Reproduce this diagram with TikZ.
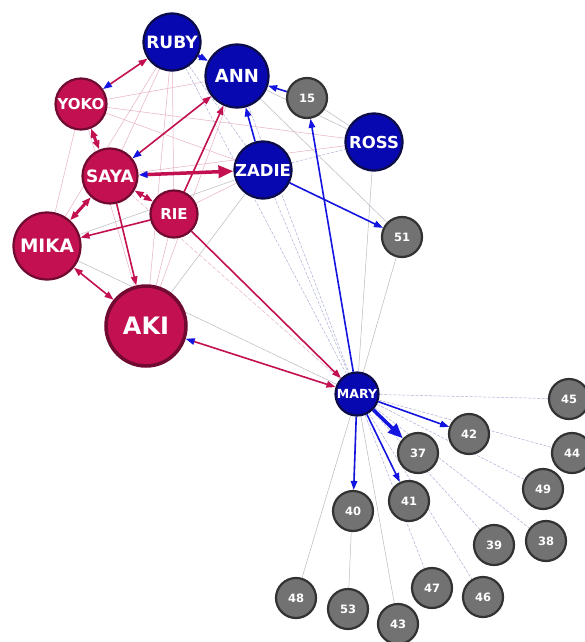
\documentclass[tikz,border=0pt]{standalone}
\usepackage{fontspec}
\setsansfont{DejaVu Sans}
\usepackage{tikz}
\usetikzlibrary{arrows.meta}
\usetikzlibrary{backgrounds}

\definecolor{crim}{RGB}{194,16,80}
\definecolor{crimdark}{RGB}{112,10,48}
\definecolor{navy}{RGB}{8,8,176}
\definecolor{navydark}{RGB}{12,12,72}
\definecolor{tieblue}{RGB}{20,20,225}
\definecolor{nodegray}{RGB}{114,114,114}
\definecolor{graydark}{RGB}{50,50,50}
\definecolor{faintred}{RGB}{232,178,196}
\definecolor{faintblue}{RGB}{172,176,215}
\definecolor{faintgray}{RGB}{185,185,195}

\pgfdeclarelayer{edgelayer}
\pgfsetlayers{background,edgelayer,main}

\tikzset{
  person/.style={circle, line width=2.2pt, text=white, inner sep=0pt},
  fs/.style={font=\sffamily\bfseries\fontsize{#1}{#1}\selectfont},
  rednode/.style={person, fill=crim, draw=crimdark},
  bluenode/.style={person, fill=navy, draw=navydark},
  graynode/.style={person, fill=nodegray, draw=graydark, minimum size=40pt, fs=11.5},
  rtie/.style={draw=crim, line width=1.6pt},
  btie/.style={draw=tieblue, line width=1.6pt},
  faint/.style={draw=faintgray, line width=0.5pt},
  faintr/.style={draw=faintred, line width=0.5pt},
  faintb/.style={draw=faintblue, line width=0.5pt, dash pattern={on 3pt off 1.5pt}},
  rtip/.tip={Triangle[length=9pt,width=6.5pt,color=crim]},
  btip/.tip={Triangle[length=9pt,width=6.5pt,color=tieblue]},
  rbig/.tip={Triangle[length=15pt,width=12pt,color=crim]},
  bbig/.tip={Triangle[length=15pt,width=12pt,color=tieblue]},
}

\begin{document}
\begin{tikzpicture}[x=1pt,y=1pt,yscale=-1]
    \useasboundingbox (0,0) rectangle (585,642);
    \begin{pgfonlayer}{background}
      \fill [white] (0,0) rectangle (585,642);
    \end{pgfonlayer}

    % Red group
    \node [rednode, minimum size=51pt, fs=15] (yoko) at (81,104) {YOKO};
    \node [rednode, minimum size=55pt, fs=17] (saya) at (110,176) {SAYA};
    \node [rednode, minimum size=47pt, fs=15] (rie) at (174,214) {RIE};
    \node [rednode, minimum size=67pt, fs=18.5] (mika) at (47,246) {MIKA};
    \node [rednode, minimum size=80pt, line width=3.5pt, fs=24] (aki) at (146,326) {AKI};
    % Blue group
    \node [bluenode, minimum size=57pt, fs=17] (ruby) at (172,42) {RUBY};
    \node [bluenode, minimum size=63pt, fs=18] (ann) at (237,76) {ANN};
    \node [bluenode, minimum size=57pt, fs=16.5] (ross) at (374,142) {ROSS};
    \node [bluenode, minimum size=57pt, fs=16.5] (zadie) at (263,170) {ZADIE};
    \node [bluenode, minimum size=43pt, fs=12.5] (mary) at (357,394) {MARY};
    % Numbered nodes
    \node [graynode] (n15) at (307,98) {15};
    \node [graynode] (n51) at (402,237) {51};
    \node [graynode] (n45) at (569,399) {45};
    \node [graynode] (n42) at (469,434) {42};
    \node [graynode] (n44) at (572,453) {44};
    \node [graynode] (n37) at (418,453) {37};
    \node [graynode] (n49) at (543,489) {49};
    \node [graynode] (n41) at (409,501) {41};
    \node [graynode] (n40) at (353,511) {40};
    \node [graynode] (n39) at (494,545) {39};
    \node [graynode] (n38) at (546,541) {38};
    \node [graynode] (n47) at (432,588) {47};
    \node [graynode] (n46) at (483,597) {46};
    \node [graynode] (n48) at (296,598) {48};
    \node [graynode] (n53) at (348,609) {53};
    \node [graynode] (n43) at (398,624) {43};

    \begin{pgfonlayer}{edgelayer}
    % faint ties
    \draw [faintr] (yoko) -- (ann);
    \draw [faintr] (yoko) -- (ross);
    \draw [faintr] (yoko) -- (zadie);
    \draw [faintr] (yoko) -- (mika);
    \draw [faintr] (yoko) -- (aki);
    \draw [faintr] (ruby) -- (saya);
    \draw [faintr] (ruby) -- (rie);
    \draw [faintr] (ruby) -- (aki);
    \draw [faintr] (ruby) -- (mika);
    \draw [faintr] (rie) -- (zadie);
    \draw [faintr] (rie) -- (aki);
    \draw [faintr] (saya) -- (ross);
    \draw [faintr] (aki) -- (ann);
    \draw [faintr, dash pattern={on 4pt off 2pt}] (saya) -- (mary);
    \draw [faint] (mika) -- (mary);
    \draw [faint] (aki) -- (zadie);
    \draw [faint] (mika) -- (zadie);
    \draw [faintb] (ruby) -- (zadie);
    \draw [faintb] (ruby) -- (mary);
    \draw [faintb] (ann) -- (mary);
    \draw [faintb] (zadie) -- (mary);
    \draw [faint] (ann) -- (ross);
    \draw [faint] (n15) -- (ross);
    \draw [faintb] (zadie) -- (ross);
    \draw [faint] (ross) -- (mary);
    \draw [faint] (n51) -- (mary);
    \draw [faint] (ann) -- (n51);
    % fan below Mary
    \draw [faintb] (mary) -- (n45);
    \draw [faintb] (mary) -- (n44);
    \draw [faintb] (mary) -- (n49);
    \draw [faintb] (mary) -- (n38);
    \draw [faintb] (mary) -- (n39);
    \draw [faintb] (mary) -- (n46);
    \draw [faintb] (mary) -- (n47);
    \draw [faint] (mary) -- (n43);
    \draw [faint] (mary) -- (n53);
    \draw [faint] (mary) -- (n48);

    % strong red ties
    \draw [rtie, btip-rtip] (yoko) -- (ruby);
    \draw [rtie, btip-rtip] (saya) -- (ann);
    \draw [rtie, line width=3.5pt, btip-rbig] (saya) -- (zadie);
    \draw [rtie, -rtip] (rie) -- (ann);
    \draw [rtie, line width=3pt, rtip-rtip] (saya) -- (yoko);
    \draw [rtie, rtip-rtip] (saya) -- (rie);
    \draw [rtie, line width=3pt, rtip-rtip] (mika) -- (saya);
    \draw [rtie, -rtip] (rie) -- (mika);
    \draw [rtie, -rtip] (saya) -- (aki);
    \draw [rtie, rtip-rtip] (mika) -- (aki);
    \draw [rtie, -rtip] (rie) -- (mary);
    \draw [rtie, btip-rtip] (aki) -- (mary);
    % strong blue ties
    \draw [btie, line width=3pt, -btip] (ruby) -- (ann);
    \draw [btie, -btip] (n15) -- (ann);
    \draw [btie, -btip] (zadie) -- (ann);
    \draw [btie, -btip] (zadie) -- (n51);
    \draw [btie, -btip] (mary) -- (n15);
    \draw [btie, -btip] (mary) -- (n42);
    \draw [btie, line width=3.5pt, -bbig] (mary) -- (n37);
    \draw [btie, -btip] (mary) -- (n41);
    \draw [btie, -btip] (mary) -- (n40);
    \end{pgfonlayer}
\end{tikzpicture}
\end{document}
